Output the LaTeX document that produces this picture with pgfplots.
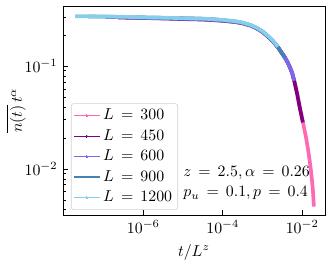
\documentclass[border=0pt]{standalone}
\usepackage{pgfplots}
\pgfplotsset{compat=1.18}
\definecolor{c300}{HTML}{FF69B4}
\definecolor{c450}{HTML}{800080}
\definecolor{c600}{HTML}{7B68EE}
\definecolor{c900}{HTML}{4682B4}
\definecolor{c1200}{HTML}{87CEEB}
\pgfplotsset{leg/.style={legend image code/.code={\draw[#1, line width=0.7pt] (0pt,0pt) -- (16pt,0pt); \fill[#1, line width=0pt] (8pt,0pt) circle (0.6pt);}}}
\begin{document}
\begin{tikzpicture}
\begin{axis}[name=ax, at={(0,0)}, anchor=south west, scale only axis,
  width=165.2pt, height=131.8pt,
  xmode=log, ymode=log,
  xmin=9.5e-9, xmax=3.72e-2, ymin=3.57e-3, ymax=0.383,
  xtick={1e-6,1e-4,1e-2}, xminorticks=false,
  xtick pos=bottom, ytick pos=left, tick align=inside,
  major tick length=3pt, minor tick length=1.8pt,
  axis line style={line width=0.45pt},
  every tick/.style={line width=0.4pt, black},
  xlabel={$t/L^z$}, ylabel={$\overline{n(t)}\,t^{\alpha}$},
  every axis y label/.style={at={(axis description cs:-0.179,0.5)}, rotate=90, anchor=center},
  legend cell align=left,
  legend style={at={(0.03,0.024)}, anchor=south west, draw=gray!35, rounded corners=1.5pt, fill=white, fill opacity=0.8, text opacity=1, row sep=0.55pt, inner sep=1.5pt, nodes={inner xsep=2pt}},
]
\addplot[c300, line width=2.3pt, leg=c300] coordinates {
(6.4e-7,0.297) (1e-6,0.296) (3e-6,0.294) (1e-5,0.291) (3e-5,0.288) (6e-5,0.284) (1e-4,0.279) (2e-4,0.271) (3e-4,0.264) (5e-4,0.249) (7e-4,0.235) (1e-3,0.216) (1.5e-3,0.189) (2e-3,0.168) (2.5e-3,0.151) (3e-3,0.136) (3.7e-3,0.121) (4.3e-3,0.109) (4.9e-3,0.098) (5.6e-3,0.0855) (6.5e-3,0.069) (7.5e-3,0.053) (8.7e-3,0.040) (1.04e-2,0.0286) (1.14e-2,0.0240) (1.24e-2,0.0205) (1.41e-2,0.0153) (1.53e-2,0.0123) (1.65e-2,0.0098) (1.76e-2,0.0078) (1.86e-2,0.0062) (1.97e-2,0.0043)};
\addlegendentry{$L\,=\,300$}
\addplot[c450, line width=2.3pt, leg=c450] coordinates {
(2.3e-7,0.296) (1e-6,0.293) (3e-6,0.290) (1e-5,0.286) (3e-5,0.283) (6e-5,0.279) (1e-4,0.275) (2e-4,0.268) (3e-4,0.261) (5e-4,0.247) (7e-4,0.233) (1e-3,0.214) (1.5e-3,0.187) (2e-3,0.167) (2.5e-3,0.150) (3e-3,0.135) (3.7e-3,0.120) (4.3e-3,0.108) (4.9e-3,0.097) (5.6e-3,0.085) (6.5e-3,0.068) (7.5e-3,0.053) (8.7e-3,0.039) (1.04e-2,0.0283)};
\addlegendentry{$L\,=\,450$}
\addplot[c600, line width=2.3pt, leg=c600] coordinates {
(1.13e-7,0.300) (3e-7,0.298) (1e-6,0.294) (3e-6,0.291) (1e-5,0.288) (3e-5,0.285) (6e-5,0.281) (1e-4,0.277) (2e-4,0.269) (3e-4,0.262) (5e-4,0.248) (7e-4,0.234) (1e-3,0.215) (1.5e-3,0.188) (2e-3,0.167) (2.5e-3,0.150) (3e-3,0.135) (3.7e-3,0.120) (4.3e-3,0.108) (4.9e-3,0.097) (5.6e-3,0.085) (6.3e-3,0.072)};
\addlegendentry{$L\,=\,600$}
\addplot[c900, line width=2.3pt, leg=c900] coordinates {
(4.1e-8,0.303) (1e-7,0.302) (3e-7,0.300) (1e-6,0.296) (3e-6,0.294) (1e-5,0.291) (3e-5,0.288) (6e-5,0.284) (1e-4,0.279) (2e-4,0.271) (3e-4,0.264) (5e-4,0.249) (7e-4,0.235) (1e-3,0.216) (1.5e-3,0.189) (2e-3,0.168) (2.5e-3,0.151) (3e-3,0.136) (3.7e-3,0.121)};
\addlegendentry{$L\,=\,900$}
\addplot[c1200, line width=2.3pt, leg=c1200] coordinates {
(1.9e-8,0.305) (5e-8,0.304) (1e-7,0.303) (3e-7,0.301) (1e-6,0.298) (3e-6,0.295) (1e-5,0.292) (3e-5,0.289) (6e-5,0.285) (1e-4,0.281) (2e-4,0.273) (3e-4,0.266) (5e-4,0.251) (7e-4,0.237) (1e-3,0.218) (1.5e-3,0.191) (2e-3,0.170) (2.45e-3,0.154)};
\addlegendentry{$L\,=\,1200$}
\node[anchor=west, inner sep=0pt] at (rel axis cs:0.458,0.199) {$z\,=\,2.5, \alpha\,=\,0.26$};
\node[anchor=west, inner sep=0pt] at (rel axis cs:0.458,0.103) {$p_u\,=\,0.1, p\,=\,0.4$};
\end{axis}
\pgfresetboundingbox
\path[use as bounding box] (-39.8pt,-29pt) rectangle (169.7pt,135.6pt);
\end{tikzpicture}
\end{document}
